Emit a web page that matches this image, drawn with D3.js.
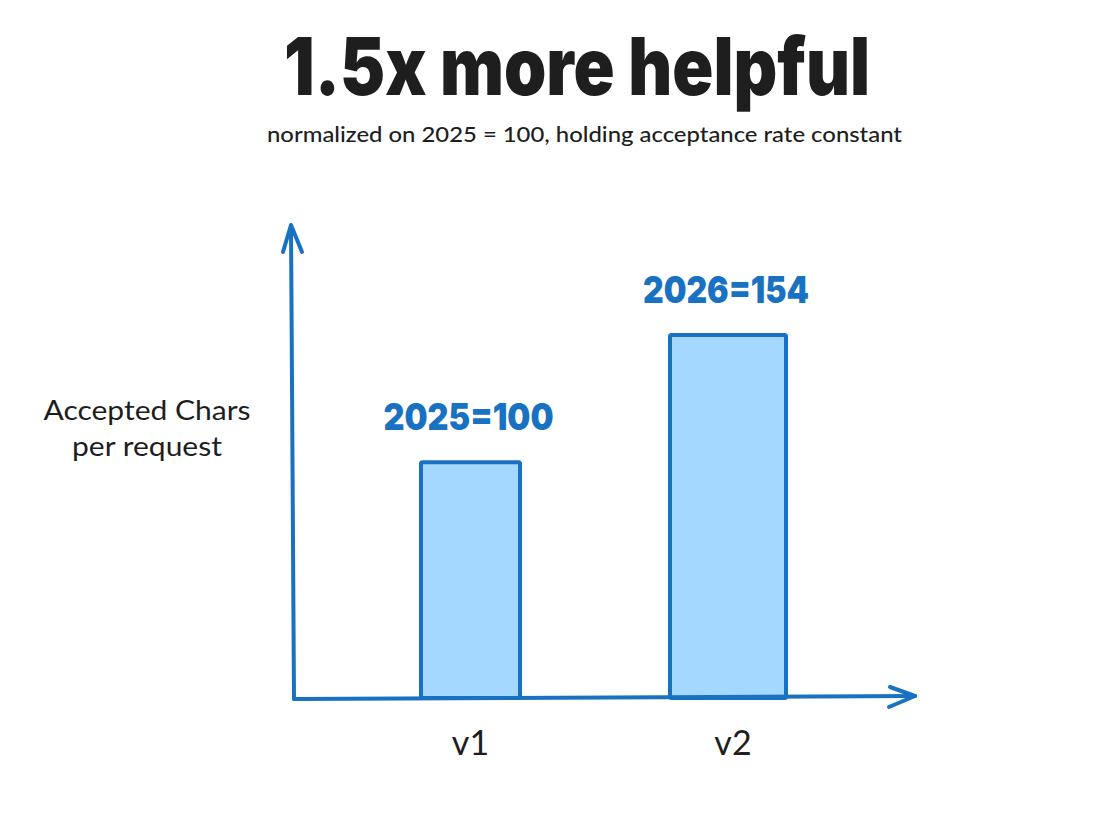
<!DOCTYPE html>
<html><head><meta charset="utf-8">
<script src="https://cdn.jsdelivr.net/npm/d3@7"></script>
<style>html,body{margin:0;padding:0;background:#fff;}</style>
</head><body>
<svg id="chart" width="1094" height="822"></svg>
<script>
// ---- data ----
const categories = ["v1", "v2"];
const values = [100, 154];
const valueLabels = ["2025=100", "2026=154"];
const titleText = "1.5x more helpful";
const subtitleText = "normalized on 2025 = 100, holding acceptance rate constant";
const yLabelLines = ["Accepted Chars", "per request"];

// ---- style / layout ----
const blue = "#1971c2", fillBlue = "#a5d8ff", ink = "#1e1e1e";
const barWidths = [99, 116];
const svg = d3.select("#chart");

const x = d3.scalePoint().domain(categories).range([470.5, 728]);
const y = d3.scaleLinear().domain([0, 154]).range([698, 335]);

function fitText(sel, w) {
  const n = sel.node();
  const len = n.getComputedTextLength();
  if (len > 0) sel.attr("textLength", w).attr("lengthAdjust", "spacingAndGlyphs");
}

// title
const t = svg.append("text").attr("x", 577).attr("y", 95).attr("text-anchor", "middle")
  .attr("font-family", "Inter, Lato, sans-serif").attr("font-weight", 900)
  .attr("font-size", 80).attr("fill", ink).text(titleText);
fitText(t, 586);

const st = svg.append("text").attr("x", 584.5).attr("y", 142).attr("text-anchor", "middle")
  .attr("font-family", "Lato, 'Noto Sans', sans-serif").attr("font-weight", 500)
  .attr("font-size", 21).attr("fill", ink).text(subtitleText);
fitText(st, 635);

// y label
const yLabelWidths = [207, 150];
yLabelLines.forEach((line, i) => {
  const s = svg.append("text").attr("x", 147).attr("y", 420 + i * 36).attr("text-anchor", "middle")
    .attr("font-family", "Lato, 'Noto Sans', sans-serif").attr("font-size", 26)
    .attr("fill", ink).text(line);
  fitText(s, yLabelWidths[i]);
});

// bars
svg.selectAll("rect.bar").data(values).join("rect").attr("class", "bar")
  .attr("x", (d, i) => x(categories[i]) - barWidths[i] / 2)
  .attr("width", (d, i) => barWidths[i])
  .attr("y", d => y(d)).attr("height", d => y(0) - y(d))
  .attr("fill", fillBlue).attr("stroke", blue).attr("stroke-width", 4)
  .attr("stroke-linejoin", "round").attr("rx", 1.5);

// value labels
svg.selectAll("text.val").data(values).join("text").attr("class", "val")
  .attr("x", (d, i) => x(categories[i]) - 2)
  .attr("y", d => y(d) - 32)
  .attr("text-anchor", "middle")
  .attr("font-family", "Inter, Lato, sans-serif").attr("font-weight", 900)
  .attr("font-size", 37).attr("fill", blue)
  .text((d, i) => valueLabels[i])
  .each(function (d, i) { fitText(d3.select(this), i === 0 ? 170 : 166); });

// axes (hand-drawn look)
const axis = svg.append("g").attr("fill", "none").attr("stroke", blue)
  .attr("stroke-width", 4).attr("stroke-linecap", "round").attr("stroke-linejoin", "round");
axis.append("path").attr("d", "M294,699 L291,226");
axis.append("path").attr("d", "M283,252 L291,225 L302,252");
axis.append("path").attr("d", "M294,699 L915,696");
axis.append("path").attr("d", "M890,687 L915,696 L889,707");

// category tick labels
svg.selectAll("text.cat").data(categories).join("text").attr("class", "cat")
  .attr("x", (d, i) => x(d) + (i === 1 ? 5 : 0)).attr("y", 755)
  .attr("text-anchor", "middle")
  .attr("font-family", "Lato, 'Noto Sans', sans-serif").attr("font-size", 34)
  .attr("fill", ink).text(d => d);
</script>
</body></html>
